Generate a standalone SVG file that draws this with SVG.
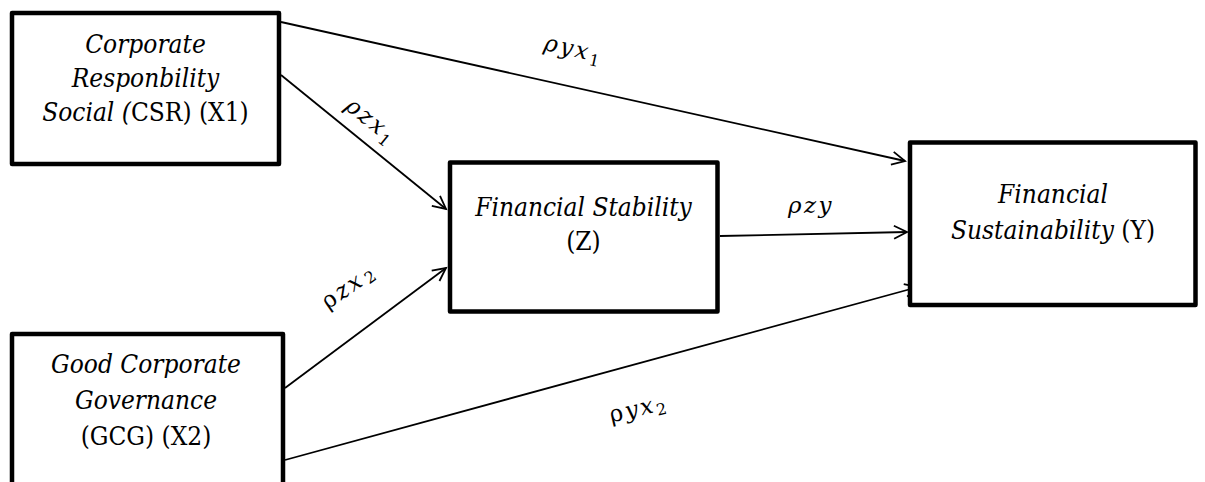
<svg xmlns="http://www.w3.org/2000/svg" width="1205" height="482" viewBox="0 0 1205 482">
<style>
.box{fill:#fff;stroke:#000;stroke-width:4.5;stroke-linejoin:round}
.t{font-family:"DejaVu Serif Condensed","DejaVu Serif",serif;font-stretch:condensed;font-size:26px;fill:#000;text-anchor:middle}
.i{font-style:italic}
.c{fill:none;stroke:#000;stroke-width:1.8}
.lab{font-family:"DejaVu Serif",serif;font-style:italic;font-size:23px;letter-spacing:2.5px;fill:#000;text-anchor:middle}
.up{font-style:normal}
.sub{font-size:16px;font-style:normal;letter-spacing:0}
</style>
<defs>
<marker id="arr" markerUnits="userSpaceOnUse" markerWidth="20" markerHeight="20" viewBox="-16 -10 20 20" refX="0" refY="0" orient="auto">
<path d="M-13,-6.5 L0,0 L-13,6.5" fill="none" stroke="#000" stroke-width="1.8"/>
</marker>
</defs>
<rect width="1205" height="482" fill="#fff"/>
<g id="connectors">
<line class="c" x1="281" y1="22" x2="905" y2="161" marker-end="url(#arr)"/>
<line class="c" x1="281" y1="75" x2="446" y2="209" marker-end="url(#arr)"/>
<line class="c" x1="720" y1="236" x2="907" y2="232" marker-end="url(#arr)"/>
<line class="c" x1="285" y1="388" x2="446" y2="268" marker-end="url(#arr)"/>
<line class="c" x1="285" y1="460" x2="918" y2="287" marker-end="url(#arr)"/>
<text class="lab" transform="translate(571,56) rotate(12.5)">ρyx<tspan class="sub" dy="5">1</tspan></text>
<text class="lab" transform="translate(366,126) rotate(39)">ρzx<tspan class="sub" dy="5">1</tspan></text>
<text class="lab" x="811" y="213">ρzy</text>
<text class="lab" transform="translate(352,293) rotate(-35)"><tspan class="up">ρ</tspan>zx<tspan class="sub" dx="2" dy="3">2</tspan></text>
<text class="lab" transform="translate(639,416) rotate(-13)"><tspan class="up">ρ</tspan>yx<tspan class="sub" dy="4">2</tspan></text>
</g>
<g id="node-x1">
<rect class="box" x="12" y="13" width="267" height="151"/>
<text class="t i" x="145.5" y="53">Corporate</text>
<text class="t i" x="145.5" y="86.5">Responbility</text>
<text class="t" x="145.5" y="120.5"><tspan class="i">Social (</tspan>CSR) (X1)</text>
</g>
<g id="node-x2">
<rect class="box" x="12" y="334" width="271" height="170"/>
<text class="t i" x="146" y="373">Good Corporate</text>
<text class="t i" x="146" y="409">Governance</text>
<text class="t" x="146" y="445">(GCG) (X2)</text>
</g>
<g id="node-z">
<rect class="box" x="450" y="162.5" width="267.5" height="149"/>
<text class="t i" x="583.5" y="215.5">Financial Stability</text>
<text class="t" x="583.5" y="250">(Z)</text>
</g>
<g id="node-y">
<rect class="box" x="910" y="142.5" width="285.5" height="162.5"/>
<text class="t i" x="1053" y="203">Financial</text>
<text class="t" x="1053" y="239"><tspan class="i">Sustainability</tspan> (Y)</text>
</g>
</svg>
